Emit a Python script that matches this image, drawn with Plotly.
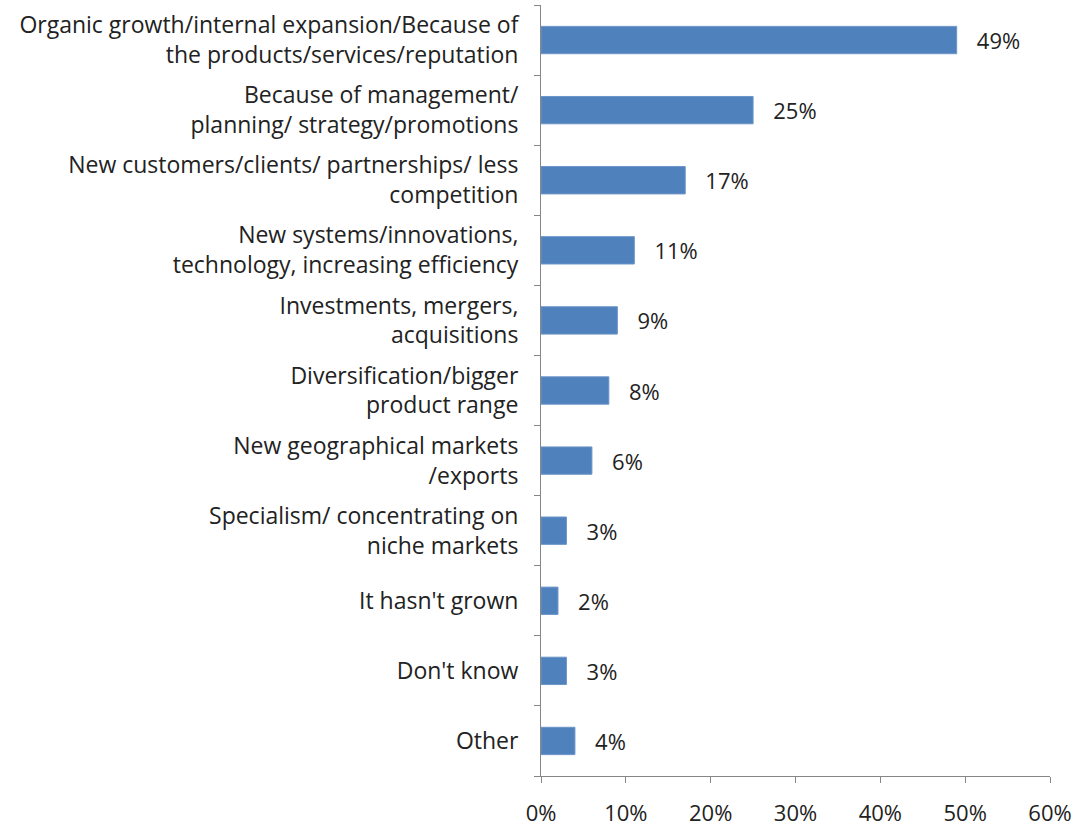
import plotly.graph_objects as go

# Reasons given for business growth (share of respondents, %)
categories = [
    "Organic growth/internal expansion/Because of<br>the products/services/reputation",
    "Because of management/<br>planning/ strategy/promotions",
    "New customers/clients/ partnerships/ less<br>competition",
    "New systems/innovations,<br>technology, increasing efficiency",
    "Investments, mergers,<br>acquisitions",
    "Diversification/bigger<br>product range",
    "New geographical markets<br>/exports",
    "Specialism/ concentrating on<br>niche markets",
    "It hasn't grown",
    "Don't know",
    "Other",
]
values = [49, 25, 17, 11, 9, 8, 6, 3, 2, 3, 4]
x_ticks = [0, 10, 20, 30, 40, 50, 60]

FONT = "Open Sans, Calibri, sans-serif"
AXIS_GREY = "#868686"
TEXT = "#222222"

fig = go.Figure(
    go.Bar(
        y=categories,
        x=values,
        orientation="h",
        marker=dict(color="#4F81BD", line=dict(color="#6C95C8", width=1)),
        text=[f"{v}%" for v in values],
        texttemplate="   %{text}",
        textposition="outside",
        constraintext="none",
        textfont=dict(family=FONT, size=22, color=TEXT),
        cliponaxis=False,
        width=0.39,
    )
)

fig.update_layout(
    width=1077,
    height=827,
    margin=dict(l=541, r=27, t=5, b=51),
    paper_bgcolor="white",
    plot_bgcolor="white",
    showlegend=False,
    font=dict(family=FONT, size=22, color=TEXT),
)

fig.update_xaxes(
    range=[0, 60],
    tickvals=x_ticks,
    ticktext=[f"{t}%" for t in x_ticks],
    showgrid=False,
    zeroline=False,
    showline=True,
    linecolor=AXIS_GREY,
    linewidth=1,
    ticks="outside",
    ticklen=6,
    tickcolor=AXIS_GREY,
    ticklabelstandoff=12,
    tickfont=dict(family=FONT, size=22, color=TEXT),
    automargin=False,
)

fig.update_yaxes(
    categoryorder="array",
    categoryarray=categories[::-1],
    autorange=False,
    range=[-0.5, len(categories) - 0.5],
    tickson="boundaries",
    showgrid=False,
    showline=True,
    linecolor=AXIS_GREY,
    linewidth=1,
    ticks="outside",
    ticklen=6,
    tickcolor=AXIS_GREY,
    ticklabelstandoff=17,
    tickfont=dict(family=FONT, size=23, color=TEXT),
    automargin=False,
)

fig.write_html("out.html")
